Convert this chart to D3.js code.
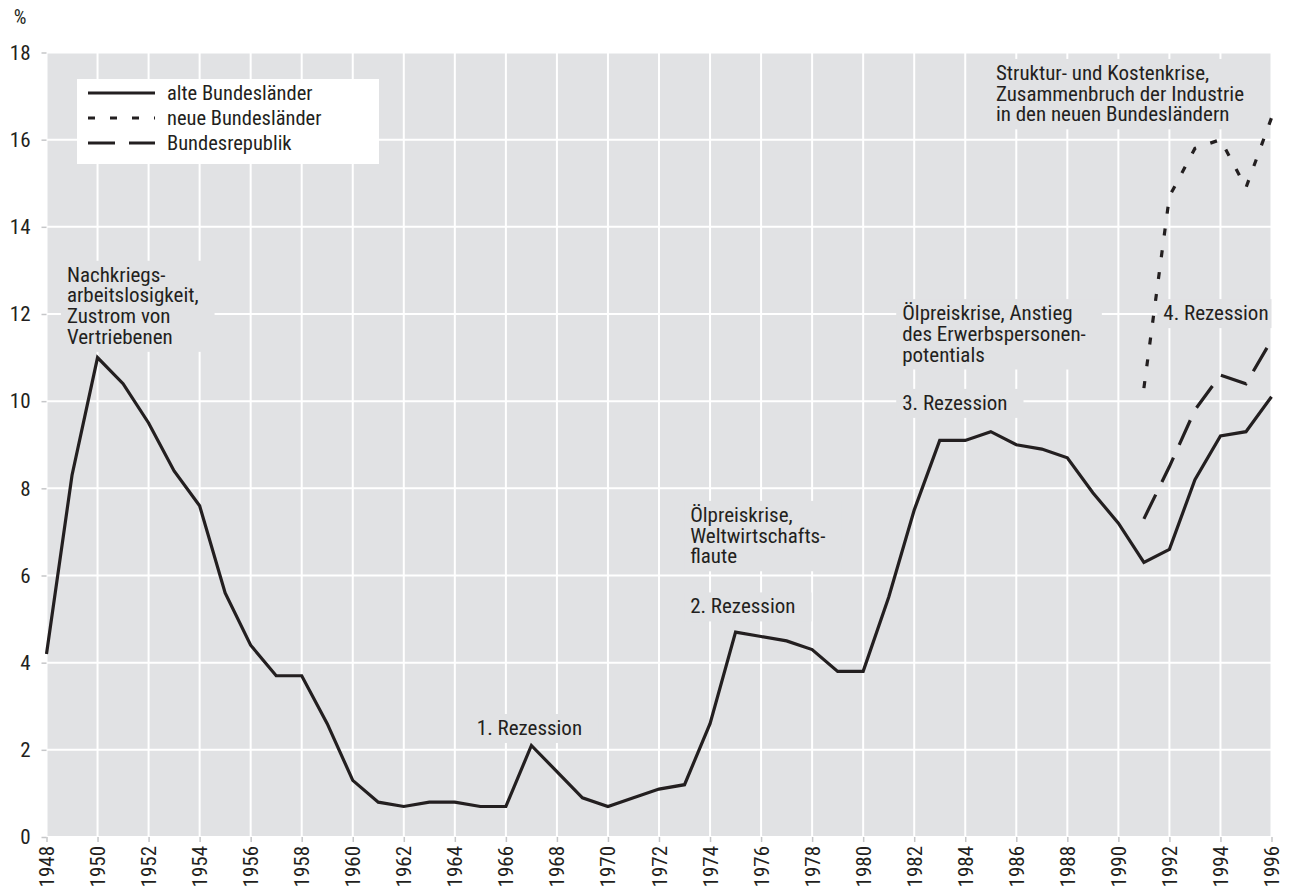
<!DOCTYPE html>
<html>
<head>
<meta charset="utf-8">
<script src="https://cdn.jsdelivr.net/npm/d3@7"></script>
<style>
  html, body { margin: 0; padding: 0; background: #fff; }
  svg text { font-family: "Liberation Sans Narrow", "Arial Narrow", "Roboto Condensed", sans-serif; fill: #231f20; }
</style>
</head>
<body>
<svg id="chart" width="1294" height="887"></svg>
<script>
const years = [1948, 1949, 1950, 1951, 1952, 1953, 1954, 1955, 1956, 1957,
  1958, 1959, 1960, 1961, 1962, 1963, 1964, 1965, 1966, 1967,
  1968, 1969, 1970, 1971, 1972, 1973, 1974, 1975, 1976, 1977,
  1978, 1979, 1980, 1981, 1982, 1983, 1984, 1985, 1986, 1987,
  1988, 1989, 1990, 1991, 1992, 1993, 1994, 1995, 1996];

const alteBundeslaender = [4.2, 8.3, 11.0, 10.4, 9.5, 8.4, 7.6, 5.6, 4.4, 3.7,
  3.7, 2.6, 1.3, 0.8, 0.7, 0.8, 0.8, 0.7, 0.7, 2.1,
  1.5, 0.9, 0.7, 0.9, 1.1, 1.2, 2.6, 4.7, 4.6, 4.5,
  4.3, 3.8, 3.8, 5.5, 7.5, 9.1, 9.1, 9.3, 9.0, 8.9,
  8.7, 7.9, 7.2, 6.3, 6.6, 8.2, 9.2, 9.3, 10.1];

const yearsNeu = [1991, 1992, 1993, 1994, 1995, 1996];
const neueBundeslaender = [10.3, 14.7, 15.8, 16.0, 14.9, 16.5];
const bundesrepublik = [7.3, 8.5, 9.8, 10.6, 10.4, 11.4];

const xTicks = d3.range(1948, 1997, 2);
const yTicks = [0, 2, 4, 6, 8, 10, 12, 14, 16, 18];

const legendItems = [
  { label: 'alte Bundesländer', dash: null },
  { label: 'neue Bundesländer', dash: '7,15' },
  { label: 'Bundesrepublik', dash: '27,14' }
];

// annotation text, anchored at (year, value) of the first baseline
const annotations = [
  { lines: ['Nachkriegs-', 'arbeitslosigkeit,', 'Zustrom von', 'Vertriebenen'], year: 1948.8, value: 12.74 },
  { lines: ['1. Rezession'], year: 1964.86, value: 2.34 },
  { lines: ['Ölpreiskrise,', 'Weltwirtschafts-', 'flaute'], year: 1973.22, value: 7.23 },
  { lines: ['2. Rezession'], year: 1973.22, value: 5.13 },
  { lines: ['Ölpreiskrise, Anstieg', 'des Erwerbspersonen-', 'potentials'], year: 1981.53, value: 11.86 },
  { lines: ['3. Rezession'], year: 1981.53, value: 9.8 },
  { lines: ['Struktur- und Kostenkrise,', 'Zusammenbruch der Industrie', 'in den neuen Bundesländern'], year: 1985.2, value: 17.37 },
  { lines: ['4. Rezession'], year: 1991.76, value: 11.86 }
];

const plotLeft = 46.5, plotRight = 1271.5, plotTop = 52.5, plotBottom = 837;
const ink = '#231f20';
const panel = '#e1e2e4';

const x = d3.scaleLinear().domain([1948, 1996]).range([plotLeft, plotRight]);
const y = d3.scaleLinear().domain([0, 18]).range([plotBottom, plotTop]);

const svg = d3.select('#chart');

svg.append('defs').append('clipPath').attr('id', 'plot')
  .append('rect')
    .attr('x', plotLeft).attr('y', plotTop)
    .attr('width', plotRight - plotLeft).attr('height', plotBottom - plotTop);

svg.append('rect')
  .attr('x', plotLeft).attr('y', plotTop)
  .attr('width', plotRight - plotLeft).attr('height', plotBottom - plotTop)
  .attr('fill', panel);

// grid
svg.append('g').selectAll('line')
  .data(xTicks)
  .join('line')
    .attr('x1', d => x(d)).attr('x2', d => x(d))
    .attr('y1', plotTop).attr('y2', plotBottom)
    .attr('stroke', '#fff').attr('stroke-width', 2);

svg.append('g').selectAll('line')
  .data(yTicks)
  .join('line')
    .attr('x1', plotLeft).attr('x2', plotRight)
    .attr('y1', d => y(d)).attr('y2', d => y(d))
    .attr('stroke', '#fff').attr('stroke-width', 2);

// axes
const yAxis = svg.append('g')
  .attr('transform', `translate(${plotLeft},0)`)
  .call(d3.axisLeft(y).tickValues(yTicks).tickSize(5).tickPadding(11).tickFormat(d3.format('d')));
yAxis.select('.domain').remove();
yAxis.selectAll('.tick line').attr('stroke', '#c6c7c9').attr('stroke-width', 1.5);
yAxis.selectAll('.tick text').attr('font-size', 21).style('fill', ink);

const xAxis = svg.append('g')
  .attr('transform', `translate(0,${plotBottom})`)
  .call(d3.axisBottom(x).tickValues(xTicks).tickSize(5).tickFormat(d3.format('d')));
xAxis.select('.domain').remove();
xAxis.selectAll('.tick line').attr('stroke', '#c6c7c9').attr('stroke-width', 1.5);
xAxis.selectAll('.tick text')
  .attr('font-size', 21)
  .attr('text-anchor', 'end')
  .attr('dy', null)
  .attr('y', 0)
  .attr('transform', 'translate(0,9) rotate(-90)')
  .attr('dominant-baseline', 'central')
  .style('fill', ink);

svg.append('text')
  .attr('x', 20).attr('y', 24)
  .attr('text-anchor', 'middle')
  .attr('font-size', 20)
  .text('%');

// annotations with masks over the grid
const lineHeight = 20.7;
const annG = svg.append('g');
annotations.forEach(a => {
  const g = annG.append('g');
  const mask = g.append('rect').attr('fill', panel).attr('clip-path', 'url(#plot)');
  const t = g.append('text')
    .attr('x', x(a.year)).attr('y', y(a.value))
    .attr('font-size', 21);
  t.selectAll('tspan')
    .data(a.lines)
    .join('tspan')
      .attr('x', x(a.year))
      .attr('dy', (d, i) => i === 0 ? 0 : lineHeight)
      .text(d => d);
  const b = t.node().getBBox();
  mask.attr('x', b.x - 6).attr('y', b.y - 2)
    .attr('width', b.width + 22).attr('height', b.height + 5);
});

// legend
const legend = svg.append('g');
legend.append('rect')
  .attr('x', 77).attr('y', 79).attr('width', 302).attr('height', 85)
  .attr('fill', '#fff');
legendItems.forEach((item, i) => {
  const ly = 93 + i * 25;
  legend.append('line')
    .attr('x1', 88).attr('x2', 155)
    .attr('y1', ly).attr('y2', ly)
    .attr('stroke', ink).attr('stroke-width', 3.2)
    .attr('stroke-dasharray', item.dash);
  legend.append('text')
    .attr('x', 167).attr('y', ly)
    .attr('dy', '0.35em')
    .attr('font-size', 20.5)
    .text(item.label);
});

// series
const line = d3.line()
  .x(d => x(d[0]))
  .y(d => y(d[1]));

const drawLine = (data, dash) =>
  svg.append('path')
    .datum(data)
    .attr('d', line)
    .attr('fill', 'none')
    .attr('stroke', ink)
    .attr('stroke-width', 3.2)
    .attr('stroke-dasharray', dash);

drawLine(d3.zip(yearsNeu, neueBundeslaender), '7,15');
drawLine(d3.zip(yearsNeu, bundesrepublik), '27,14');
drawLine(d3.zip(years, alteBundeslaender), null);
</script>
</body>
</html>
